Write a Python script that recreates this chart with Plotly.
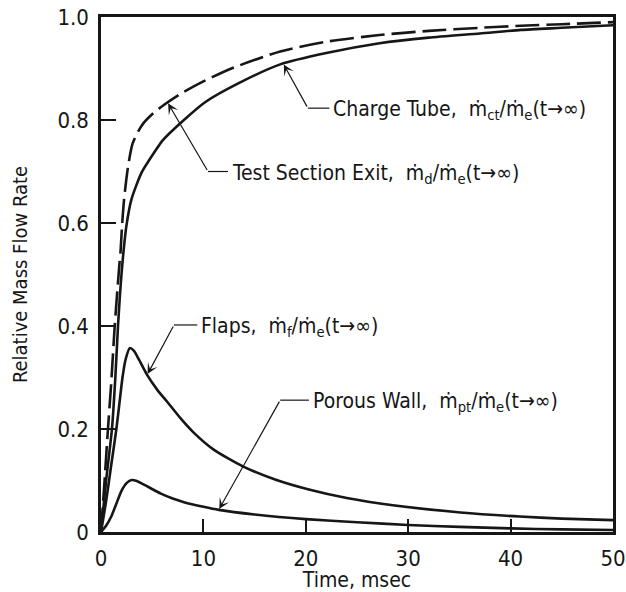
import numpy as np
import plotly.graph_objects as go

# ---- data ----
t_dash = [0, 0.35, 0.68, 1.0, 1.34, 1.6, 1.8, 1.92, 2.05, 2.25, 2.64, 3.1, 4.0, 5.1, 6.2, 7.7,
          10, 13, 17.5, 22, 27.2, 32, 37, 41, 45, 50]
v_dash = [0, 0.10, 0.20, 0.29, 0.40, 0.47, 0.52, 0.548, 0.593, 0.645, 0.709, 0.755, 0.790, 0.813,
          0.830, 0.850, 0.875, 0.902, 0.933, 0.952, 0.965, 0.973, 0.979, 0.983, 0.986, 0.990]

t_solid = [0, 0.5, 1.07, 1.4, 1.66, 1.85, 2.0, 2.15, 2.47, 2.96, 3.94, 5.57, 6.0, 8.1, 10.2,
           13.5, 17.5, 22, 27.2, 32, 37, 41, 45, 50]
v_solid = [0, 0.10, 0.20, 0.30, 0.40, 0.46, 0.50, 0.535, 0.593, 0.645, 0.697, 0.748, 0.760,
           0.800, 0.835, 0.872, 0.908, 0.930, 0.949, 0.960, 0.968, 0.975, 0.979, 0.984]

t_flaps = [0, 0.5, 1.0, 1.5, 1.8, 2.1, 2.4, 2.8, 3.2, 3.7, 4.5, 5.5, 6.5, 7.8, 9.0, 11, 13.9,
           17, 20.4, 24, 28.5, 35.1, 40.9, 45, 50]
v_flaps = [0, 0.06, 0.13, 0.20, 0.25, 0.30, 0.335, 0.357, 0.352, 0.335, 0.305, 0.276, 0.252,
           0.220, 0.194, 0.160, 0.127, 0.102, 0.082, 0.066, 0.052, 0.038, 0.030, 0.026, 0.023]

t_porous = [0, 0.5, 1.0, 1.5, 2.0, 2.5, 3.0, 3.5, 4.0, 4.85, 5.8, 7.0, 8.1, 10, 11.5, 15, 20,
            25, 30, 35, 40, 45, 50]
v_porous = [0, 0.012, 0.030, 0.055, 0.080, 0.095, 0.101, 0.099, 0.094, 0.085, 0.075, 0.065,
            0.058, 0.049, 0.043, 0.034, 0.025, 0.019, 0.0136, 0.010, 0.007, 0.005, 0.004]

x_ticks = [0, 10, 20, 30, 40, 50]
y_ticks = [0, 0.2, 0.4, 0.6, 0.8, 1.0]
y_ticktext = ["0", "0.2", "0.4", "0.6", "0.8", "1.0"]

labels = [
    "Charge Tube,  ṁ<sub>ct</sub>/ṁ<sub>e</sub>(t→∞)",
    "Test Section Exit,  ṁ<sub>d</sub>/ṁ<sub>e</sub>(t→∞)",
    "Flaps,  ṁ<sub>f</sub>/ṁ<sub>e</sub>(t→∞)",
    "Porous Wall,  ṁ<sub>pt</sub>/ṁ<sub>e</sub>(t→∞)",
]

FONT = "DejaVu Sans Condensed, Liberation Sans Narrow, DejaVu Sans, sans-serif"
INK = "#161616"

fig = go.Figure()
fig.add_trace(go.Scatter(x=t_dash, y=v_dash, mode="lines",
                         line=dict(color=INK, width=2.6, dash="24px,7px", shape="spline", smoothing=0.7)))
fig.add_trace(go.Scatter(x=t_solid, y=v_solid, mode="lines",
                         line=dict(color=INK, width=2.6, shape="spline", smoothing=0.6)))
fig.add_trace(go.Scatter(x=t_flaps, y=v_flaps, mode="lines",
                         line=dict(color=INK, width=2.6, shape="spline", smoothing=0.6)))
fig.add_trace(go.Scatter(x=t_porous, y=v_porous, mode="lines",
                         line=dict(color=INK, width=2.6, shape="spline", smoothing=0.6)))

# leader annotations: (series, arrow t, elbow t, elbow v, text start t)
leaders = [
    (t_solid, v_solid, 17.8, 20.2, 0.823, 22.3, labels[0]),
    (t_dash, v_dash, 6.5, 10.45, 0.700, 12.4, labels[1]),
    (t_flaps, v_flaps, 4.5, 7.13, 0.402, 9.4, labels[2]),
    (t_porous, v_porous, 11.5, 17.5, 0.256, 20.3, labels[3]),
]
for ts, vs, ta, te, ve, tx, lab in leaders:
    va = float(np.interp(ta, ts, vs))
    fig.add_annotation(x=ta, y=va, ax=te, ay=ve, xref="x", yref="y", axref="x", ayref="y",
                       text="", showarrow=True, arrowhead=3, arrowsize=1.5, arrowwidth=1.2,
                       arrowcolor=INK, standoff=1)
    fig.add_shape(type="line", xref="x", yref="y", x0=te, y0=ve, x1=tx, y1=ve,
                  line=dict(color=INK, width=1.2))
    fig.add_annotation(x=tx + 0.2, y=ve, xref="x", yref="y", text=lab, showarrow=False,
                       xanchor="left", yanchor="middle", yshift=-2,
                       font=dict(family=FONT, size=21, color=INK))

fig.update_layout(
    width=626, height=592,
    margin=dict(l=101, r=13, t=17, b=60),
    paper_bgcolor="white", plot_bgcolor="white",
    showlegend=False,
    font=dict(family=FONT, size=21, color=INK),
)
fig.update_xaxes(range=[0, 50], tickvals=x_ticks, ticks="inside", ticklen=13, tickwidth=1.5,
                 tickcolor=INK, showline=True, linewidth=2.5, linecolor=INK, mirror=True,
                 showgrid=False, zeroline=False, ticklabelstandoff=5, automargin=False,
                 title=dict(text="Time, msec", standoff=7, font=dict(size=21)),
                 tickfont=dict(size=22))
fig.update_yaxes(range=[0, 1.0], tickvals=y_ticks, ticktext=y_ticktext, ticks="inside",
                 ticklen=15, tickwidth=1.5, tickcolor=INK, showline=True, linewidth=2.5,
                 linecolor=INK, mirror=True, showgrid=False, zeroline=False, ticklabelstandoff=5,
                 automargin=False,
                 title=dict(text="Relative Mass Flow Rate", standoff=25, font=dict(size=20)),
                 tickfont=dict(size=22))

fig.write_html("out.html")
